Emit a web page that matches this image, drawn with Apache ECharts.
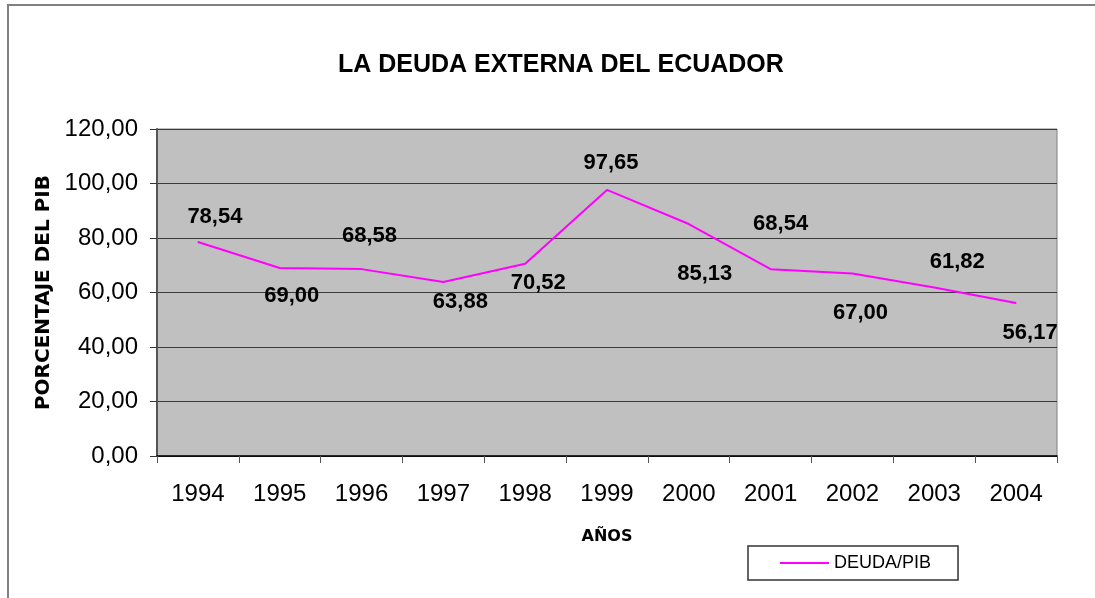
<!DOCTYPE html>
<html>
<head>
<meta charset="UTF-8">
<title>deuda_externa</title>
<script src="https://cdn.jsdelivr.net/npm/echarts@6/dist/echarts.min.js"></script>
<style>
  html, body { margin: 0; padding: 0; background: #fff; }
  #main { width: 1095px; height: 598px; }
</style>
</head>
<body>
<div id="main"></div>
<script>
// datos
var years = ['1994', '1995', '1996', '1997', '1998', '1999', '2000', '2001', '2002', '2003', '2004'];
var deudaPib = [78.54, 69.00, 68.58, 63.88, 70.52, 97.65, 85.13, 68.54, 67.00, 61.82, 56.17];
var yTicks = [0, 20, 40, 60, 80, 100, 120];

// desplazamiento de las etiquetas (como en el original)
var labelShift = [[17, -25], [12, 28], [8, -33], [17, 20], [13, 19], [4, -27], [16, 50], [10, -45], [8, 40], [23, -26], [14, 30]];

function coma(v) {
  return v.toFixed(2).replace('.', ',');
}

var points = deudaPib.map(function (v, i) {
  return {
    value: v,
    label: { offset: labelShift[i] }
  };
});

var myChart = echarts.init(document.getElementById('main'));
var option = {
  animation: false,
  backgroundColor: '#ffffff',
  title: {
    text: 'LA DEUDA EXTERNA DEL ECUADOR',
    left: 333,
    top: 48,
    textStyle: { fontFamily: 'Liberation Sans', fontWeight: 'bold', fontSize: 25, color: '#000' }
  },
  graphic: [{
    type: 'polyline',
    shape: { points: [[8, 598], [8, 5], [1095, 5]] },
    style: { stroke: '#808080', lineWidth: 2, fill: null }
  }],
  legend: {
    data: ['DEUDA/PIB'],
    left: 748,
    top: 546,
    orient: 'horizontal',
    borderColor: '#333',
    borderWidth: 1.5,
    padding: [8, 27, 8, 31],
    itemWidth: 49,
    itemHeight: 16,
    itemGap: 4,
    itemStyle: { opacity: 0 },
    textStyle: { fontFamily: 'Liberation Sans', fontSize: 18, color: '#000' }
  },
  grid: {
    left: 157,
    right: 38,
    top: 129,
    bottom: 142,
    show: true,
    backgroundColor: '#c0c0c0',
    borderColor: '#808080',
    borderWidth: 1
  },
  xAxis: {
    type: 'category',
    data: years,
    boundaryGap: true,
    name: 'AÑOS',
    nameLocation: 'middle',
    nameGap: 73,
    nameTextStyle: { fontFamily: 'DejaVu Sans', fontWeight: 'bold', fontSize: 16, color: '#000' },
    axisLine: { lineStyle: { color: '#000', width: 1.5 } },
    axisTick: { show: true, length: 7, lineStyle: { color: '#555' } },
    axisLabel: { margin: 26, fontFamily: 'Liberation Sans', fontSize: 24, color: '#000' }
  },
  yAxis: {
    type: 'value',
    min: yTicks[0],
    max: yTicks[yTicks.length - 1],
    interval: 20,
    name: 'PORCENTAJE DEL PIB',
    nameLocation: 'middle',
    nameRotate: 90,
    nameGap: 102,
    nameTextStyle: { fontFamily: 'DejaVu Sans', fontWeight: 'bold', fontSize: 20, color: '#000' },
    axisLine: { show: true, lineStyle: { color: '#555', width: 2 } },
    axisTick: { show: true, length: 7, lineStyle: { color: '#333' } },
    axisLabel: {
      margin: 19,
      fontFamily: 'Liberation Sans',
      fontSize: 24,
      color: '#000',
      formatter: function (v) { return coma(v); }
    },
    splitLine: { lineStyle: { color: '#3a3a3a', width: 1 } }
  },
  series: [{
    name: 'DEUDA/PIB',
    type: 'line',
    data: points,
    symbol: 'circle',
    symbolSize: 1,
    itemStyle: { color: '#ff00ff' },
    lineStyle: { color: '#ff00ff', width: 2 },
    label: {
      show: true,
      position: 'inside',
      fontFamily: 'Liberation Sans',
      fontWeight: 'bold',
      fontSize: 22,
      color: '#000',
      formatter: function (p) { return coma(p.value); }
    }
  }]
};
myChart.setOption(option);
</script>
</body>
</html>
